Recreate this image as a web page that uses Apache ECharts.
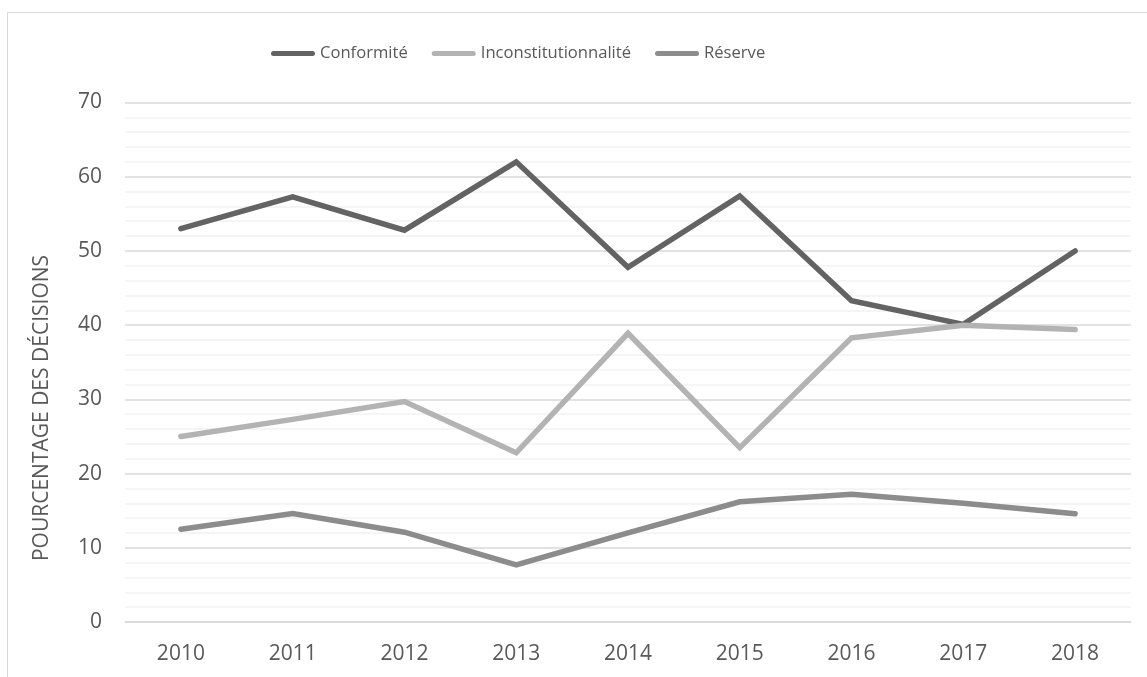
<!DOCTYPE html>
<html>
<head>
<meta charset="utf-8">
<script src="https://cdn.jsdelivr.net/npm/echarts@6/dist/echarts.min.js"></script>
<style>
html,body{margin:0;padding:0;background:#fff;}
#c{width:1147px;height:677px;}
</style>
</head>
<body>
<div id="c"></div>
<script>
var categories = ['2010','2011','2012','2013','2014','2015','2016','2017','2018'];
var conformite = [53.0, 57.3, 52.8, 62.0, 47.8, 57.4, 43.3, 40.1, 50.0];
var inconstitutionnalite = [25.0, 27.3, 29.7, 22.8, 38.9, 23.5, 38.3, 40.0, 39.4];
var reserve = [12.5, 14.6, 12.1, 7.7, 12.0, 16.2, 17.2, 16.0, 14.6];
var seriesNames = ['Conformité', 'Inconstitutionnalité', 'Réserve'];
var axisTitle = 'POURCENTAGE DES DÉCISIONS';

var FONT = '"Open Sans", sans-serif';
var TXT = '#595959';
var legendIcon = 'path://M2.5,0 H41.5 A2.5,2.5 0 0 1 41.5,5 H2.5 A2.5,2.5 0 0 1 2.5,0 Z';

function line(name, data, color) {
  return {
    name: name, type: 'line', data: data, symbol: 'none', silent: true,
    lineStyle: {color: color, width: 5.5, cap: 'round', join: 'miter'},
    itemStyle: {color: color}
  };
}

var chart = echarts.init(document.getElementById('c'), null, {renderer: 'canvas'});
chart.setOption({
  animation: false,
  backgroundColor: '#ffffff',
  textStyle: {fontFamily: FONT},
  graphic: [
    {type: 'rect', shape: {x: 7.5, y: 12.5, width: 1160, height: 700}, style: {fill: 'none', stroke: '#d9d9d9', lineWidth: 1}, z: -1},
    {type: 'text', x: 42, y: 408, rotation: Math.PI / 2,
     style: {text: axisTitle, fill: TXT, font: '21px "Open Sans", sans-serif', align: 'center', verticalAlign: 'middle'}}
  ],
  legend: {
    left: 266, top: 40,
    itemWidth: 44, itemHeight: 5, itemGap: 24,
    icon: legendIcon,
    textStyle: {color: TXT, fontSize: 16.6, fontFamily: FONT},
    data: seriesNames
  },
  grid: {left: 125, right: 16, top: 102.5, bottom: 55},
  xAxis: {
    type: 'category', data: categories, boundaryGap: true,
    axisLine: {show: true, lineStyle: {color: '#d9d9d9', width: 1.5}},
    axisTick: {show: false},
    axisLabel: {color: TXT, fontSize: 21, fontFamily: FONT, margin: 22}
  },
  yAxis: {
    type: 'value', min: 0, max: 70, interval: 10,
    axisLine: {show: false}, axisTick: {show: false},
    axisLabel: {color: TXT, fontSize: 21, fontFamily: FONT, margin: 23},
    splitLine: {show: true, lineStyle: {color: '#d9d9d9', width: 1.5}},
    minorTick: {show: false, splitNumber: 5},
    minorSplitLine: {show: true, lineStyle: {color: '#f2f2f2', width: 1.5}}
  },
  series: [
    line(seriesNames[0], conformite, '#636363'),
    line(seriesNames[1], inconstitutionnalite, '#b3b3b3'),
    line(seriesNames[2], reserve, '#8c8c8c')
  ]
});
</script>
</body>
</html>
